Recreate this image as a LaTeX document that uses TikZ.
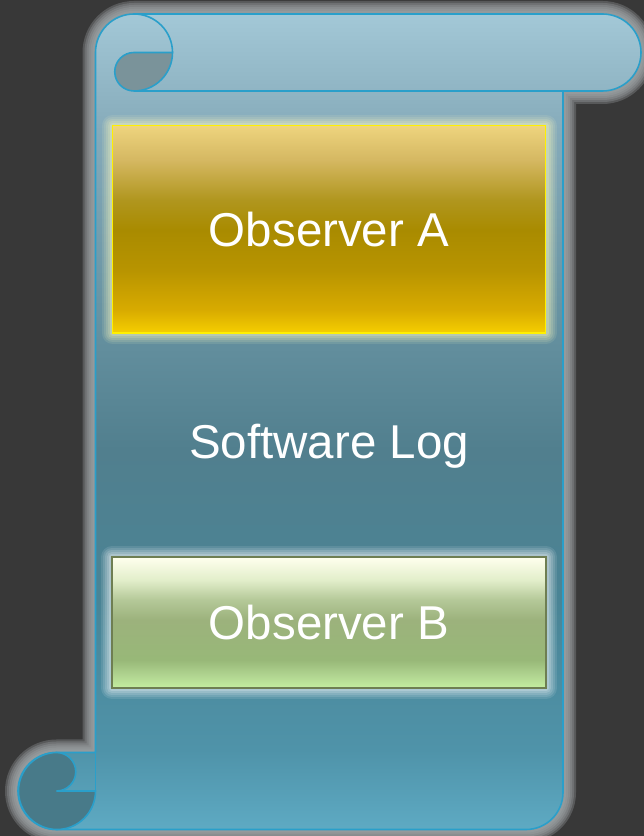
\documentclass[tikz,border=0pt]{standalone}
\usepackage{fontspec}
\setmainfont{Liberation Sans}
\usetikzlibrary{positioning}

\definecolor{backdrop}{HTML}{383838}
\definecolor{scrollline}{HTML}{2A9FCA}
\definecolor{scrollglow}{HTML}{A2A8AA}
\definecolor{curltop}{HTML}{7A939A}
\definecolor{curlbot}{HTML}{487A89}
\definecolor{goldline}{HTML}{FFF000}
\definecolor{greenline}{HTML}{6E7E52}

\definecolor{s0}{HTML}{5EAAC3}
\definecolor{s1}{HTML}{4F93A9}
\definecolor{s2}{HTML}{4A8495}
\definecolor{s3}{HTML}{517F8E}
\definecolor{s4}{HTML}{6A95A4}
\definecolor{s5}{HTML}{86ABBA}
\definecolor{s6}{HTML}{A3C8D7}
\pgfdeclareverticalshading{scrollshade}{100bp}{color(0bp)=(s0); color(25bp)=(s0); color(29.9bp)=(s1); color(39.1bp)=(s2); color(48.3bp)=(s3); color(57.5bp)=(s4); color(67.9bp)=(s5); color(75bp)=(s6); color(100bp)=(s6)}

\definecolor{g0}{HTML}{F6CF00}
\definecolor{g1}{HTML}{D8AB00}
\definecolor{g2}{HTML}{B89400}
\definecolor{g3}{HTML}{A98B00}
\definecolor{g4}{HTML}{B0961E}
\definecolor{g5}{HTML}{D5B862}
\definecolor{g6}{HTML}{EED47E}
\pgfdeclareverticalshading{goldshade}{100bp}{color(0bp)=(g0); color(25bp)=(g0); color(30.6bp)=(g1); color(40.2bp)=(g2); color(49.9bp)=(g3); color(57.1bp)=(g4); color(66.8bp)=(g5); color(75bp)=(g6); color(100bp)=(g6)}

\definecolor{v0}{HTML}{C4EEA0}
\definecolor{v1}{HTML}{B0D490}
\definecolor{v2}{HTML}{98B878}
\definecolor{v3}{HTML}{9CB27C}
\definecolor{v4}{HTML}{B4C898}
\definecolor{v5}{HTML}{E2EECA}
\definecolor{v6}{HTML}{FFFFEE}
\pgfdeclareverticalshading{greenshade}{100bp}{color(0bp)=(v0); color(25bp)=(v0); color(30bp)=(v1); color(35.7bp)=(v2); color(51bp)=(v3); color(58.6bp)=(v4); color(66.2bp)=(v5); color(75bp)=(v6); color(100bp)=(v6)}

% outline of the scroll
\newcommand{\scrolloutline}{(95.5,783.5) arc[start angle=180, end angle=90, radius=38.5] -- (602.5,822) arc[start angle=90, end angle=-90, radius=38.5] -- (563,745) -- (563,43.5) arc[start angle=0, end angle=-90, radius=37] -- (56.5,6.5) arc[start angle=270, end angle=90, radius=38.5] -- (95.5,83.5) -- cycle}

\tikzset{
    scrollpen/.style={draw=scrollline, line width=1.6pt},
    obsbox/.style={rectangle, inner sep=0pt, text=white, line width=1.5pt,
        font=\fontsize{47.5}{57}\selectfont},
    boxglow/.style={preaction={draw=#1, line width=22pt, opacity=0.1, line join=round},
        preaction={draw=#1, line width=18pt, opacity=0.12, line join=round},
        preaction={draw=#1, line width=14pt, opacity=0.14, line join=round},
        preaction={draw=#1, line width=10pt, opacity=0.16, line join=round},
        preaction={draw=#1, line width=6pt, opacity=0.2, line join=round}}
}

\begin{document}
\begin{tikzpicture}[x=1pt, y=1pt]
    \fill[backdrop] (0,0) rectangle (644,836);
    \useasboundingbox (0,0) rectangle (644,836);

    % glow and body
    \foreach \w in {26,22,18,14,10,6}
        \draw[scrollglow, line width=\w pt, opacity=0.3, line join=round] \scrolloutline;
    \shade[shading=scrollshade] \scrolloutline;
    \draw[scrollpen, line join=round] \scrolloutline;

    % top curl
    \draw[scrollpen] (172.5,783.5) arc[start angle=0, end angle=90, radius=38.5];
    \draw[scrollpen] (134,745) -- (563,745);
    \filldraw[scrollpen, fill=curltop] (134,783.5) arc[start angle=90, end angle=270, radius=19.25]
        arc[start angle=270, end angle=360, radius=38.5] -- cycle;

    % bottom curl
    \filldraw[scrollpen, fill=curlbot] (56.5,83.5) arc[start angle=90, end angle=-90, radius=19.25]
        -- (95.5,45) arc[start angle=0, end angle=-270, radius=38.5] -- cycle;
    \draw[scrollpen] (95.5,83.5) -- (95.5,45);

    \node[obsbox, minimum width=433pt, minimum height=207.5pt, shading=goldshade,
        draw=goldline, boxglow={yellow!25!white}] (obsA) at (329,606.5) {Observer A};
    \node[obsbox] (log) at (329,390) {Software Log};
    \node[obsbox, minimum width=434pt, minimum height=131pt, shading=greenshade,
        draw=greenline, boxglow={white}] (obsB) at (329,213.5) {Observer B};
\end{tikzpicture}
\end{document}
